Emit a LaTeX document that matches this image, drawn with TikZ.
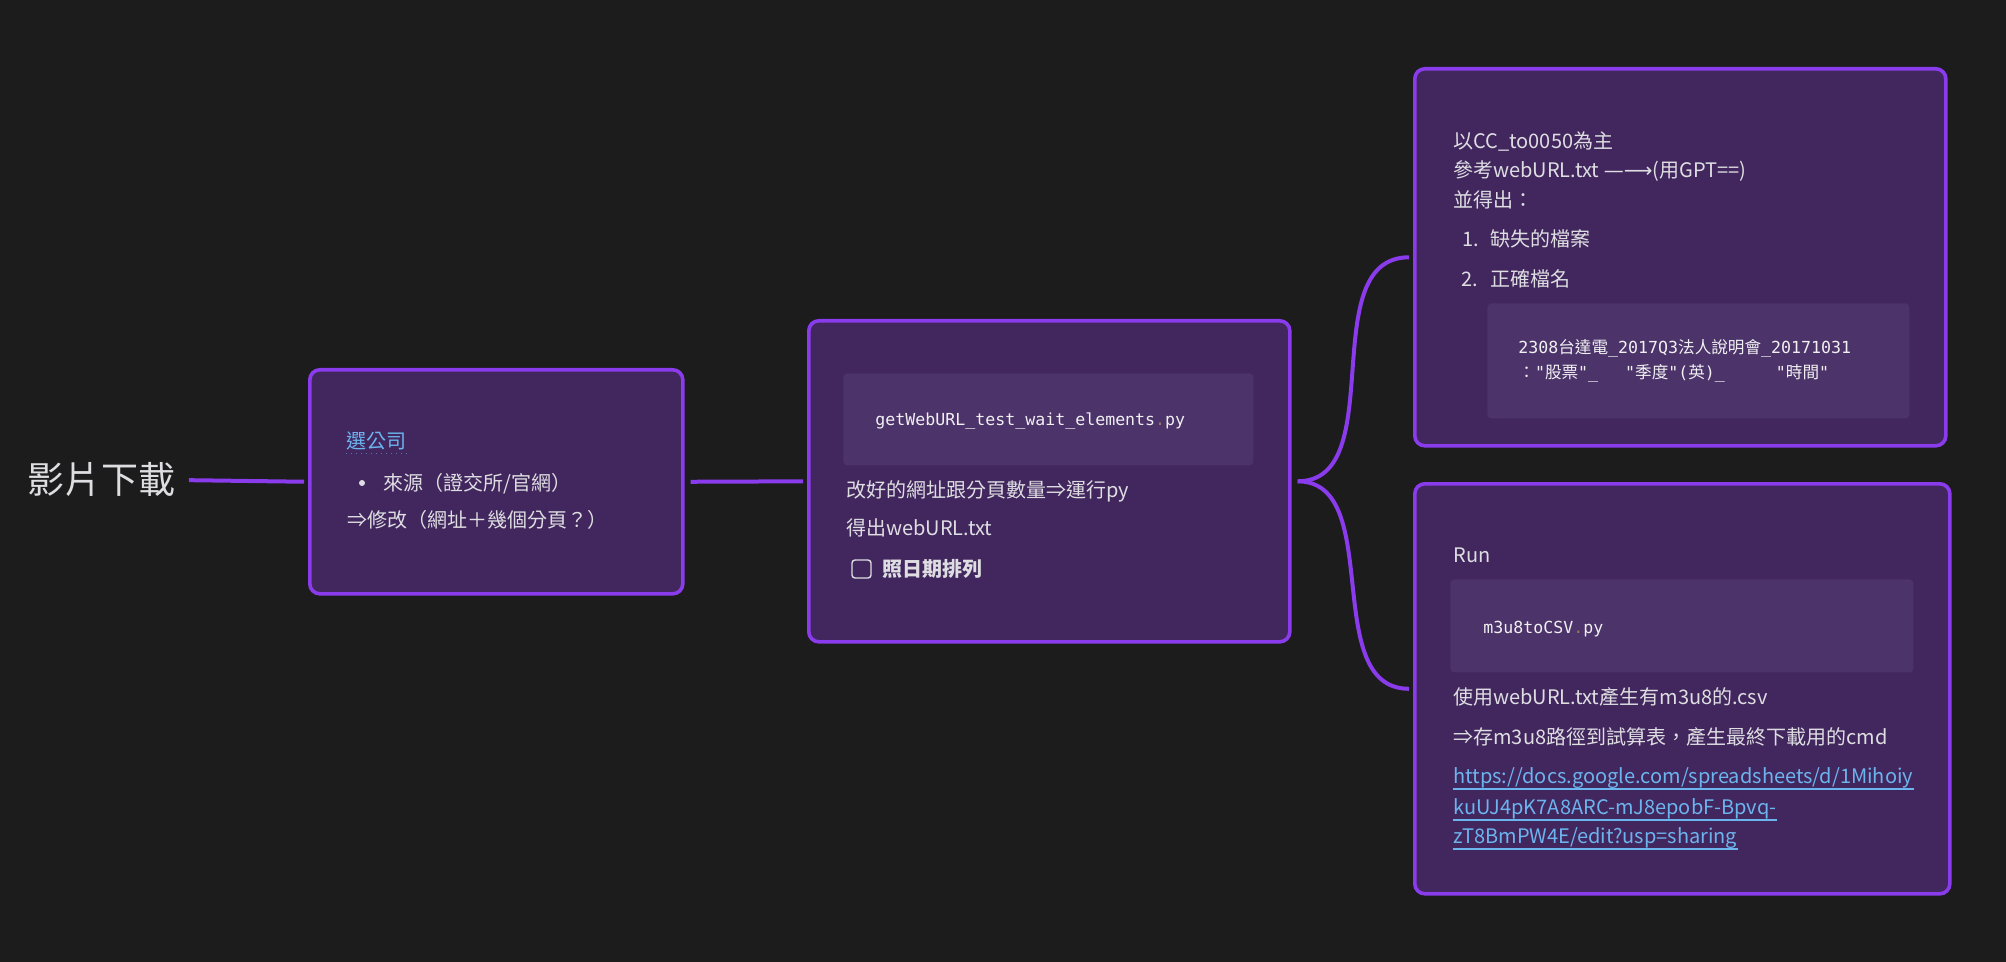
\documentclass[tikz,border=0pt]{standalone}
\usepackage{fontspec}
\setmainfont{Noto Sans CJK TC}
\setmonofont{DejaVu Sans Mono}
\newfontfamily\arrowfont{DejaVu Sans}
\definecolor{bgc}{RGB}{28,28,28}
\definecolor{cardfill}{RGB}{66,39,94}
\definecolor{cardline}{RGB}{138,59,235}
\definecolor{codefill}{RGB}{76,51,105}
\definecolor{fg}{RGB}{222,222,226}
\definecolor{codefg}{RGB}{240,240,242}
\definecolor{linkc}{RGB}{108,180,238}
\definecolor{dotc}{RGB}{150,120,90}

\begin{document}
\begin{tikzpicture}[x=0.5pt,y=-0.5pt,
    card/.style={draw=cardline,fill=cardfill,line width=1.8pt,rounded corners=5pt,inner sep=0pt,anchor=north west},
    codebox/.style={fill=codefill,rounded corners=2pt,inner sep=0pt,anchor=north west},
    txt/.style={anchor=west,inner sep=0pt,text=fg,font=\fontsize{10}{12}\selectfont,text height=7.5pt,text depth=0pt},
    codetxt/.style={anchor=west,inner sep=0pt,text=codefg,font=\ttfamily\fontsize{8.3}{10}\selectfont,text height=6pt,text depth=0pt},
    linktxt/.style={txt,text=linkc},
    branch/.style={draw=cardline,line width=2pt,shorten <=3pt,shorten >=2pt}]
    \useasboundingbox (0,0) rectangle (2006,962);
    \fill[bgc] (0,0) rectangle (2006,962);
    % cards
    \node[card,minimum width=186.5pt,minimum height=112pt] (sel) at (308,368) {};
    \node[card,minimum width=240.5pt,minimum height=160.5pt] (geturl) at (807,319) {};
    \node[card,minimum width=265.5pt,minimum height=188.5pt] (gpt) at (1413,67) {};
    \node[card,minimum width=267.5pt,minimum height=205pt] (csv) at (1413,482) {};
    % root
    \node[anchor=west,inner sep=0pt,text=fg,font=\fontsize{18.5}{20}\selectfont,text height=13.9pt,text depth=0pt] (title) at (27,480) {影片下載};
    \draw[branch,shorten <=6.5pt] (title.east) -- (sel.west);
    \draw[branch] (sel.east) -- (geturl.west);
    \draw[branch] (geturl.east) to[out=0,in=180] (gpt.west);
    \draw[branch] (geturl.east) to[out=0,in=180] (csv.west);
    % card 1
    \node[linktxt] (pick) at (346,441) {選公司};
    \draw[linkc!55!cardfill,dotted,line width=0.5pt] ([yshift=-2.3pt]pick.south west) -- ([yshift=-2.3pt]pick.south east);
    \node[circle,fill=fg,minimum size=3pt,inner sep=0pt] (bul) at (362,483) {};
    \node[txt] (src) at (383,483) {來源（證交所/官網）};
    \node[txt] (edit) at (347,520) {⇒修改（網址＋幾個分頁？）};
    % card 2
    \node[codebox,minimum width=205pt,minimum height=46pt] (code2) at (843,373) {};
    \node[codetxt] (file2) at (875,419) {getWebURL\_test\_wait\_elements{\color{dotc}.}py};
    \node[txt] (run2) at (846,490) {改好的網址跟分頁數量⇒運行py};
    \node[txt] (out2) at (846,528) {得出webURL.txt};
    \node[draw=fg,line width=0.7pt,rounded corners=1.5pt,minimum width=9.5pt,minimum height=9pt,inner sep=0pt] (chk) at (861.5,569) {};
    \node[txt,font=\fontsize{10}{12}\selectfont\bfseries] (sort) at (882,569) {照日期排列};
    % card 3
    \node[txt] (g1) at (1453,141) {以CC\_to0050為主};
    \node[txt] (g2) at (1453,170) {參考webURL.txt {\arrowfont —⟶}(用GPT==)};
    \node[txt] (g3) at (1453,200) {並得出：};
    \node[txt] (n1) at (1462,239) {1.};
    \node[txt] (g4) at (1490,239) {缺失的檔案};
    \node[txt] (n2) at (1461,279) {2.};
    \node[txt] (g5) at (1490,279) {正確檔名};
    \node[codebox,minimum width=211pt,minimum height=57.5pt] (code3) at (1487,303) {};
    \node[codetxt] (name1) at (1518,348) {2308{\rmfamily 台達電}\_2017Q3{\rmfamily 法人說明會}\_20171031};
    \node[codetxt] (name2) at (1518,373) {{\rmfamily ：}"{\rmfamily 股票}"\_\hspace{13.5pt}"{\rmfamily 季度}"({\rmfamily 英})\_\hspace{25.5pt}"{\rmfamily 時間}"};
    % card 4
    \node[txt] (c1) at (1453,555) {Run};
    \node[codebox,minimum width=231.5pt,minimum height=46.5pt] (code4) at (1450,579) {};
    \node[codetxt] (file4) at (1483,627) {m3u8toCSV{\color{dotc}.}py};
    \node[txt] (c2) at (1453,697) {使用webURL.txt產生有m3u8的.csv};
    \node[txt] (c3) at (1453,737) {⇒存m3u8路徑到試算表，產生最終下載用的cmd};
    \node[linktxt] (u1) at (1453,776) {https://docs.google.com/spreadsheets/d/1Mihoiy};
    \node[linktxt] (u2) at (1453,807) {kuUJ4pK7A8ARC-mJ8epobF-Bpvq-};
    \node[linktxt] (u3) at (1453,836) {zT8BmPW4E/edit?usp=sharing};
    \foreach \u in {u1,u2,u3}
        \draw[linkc,line width=0.6pt] ([yshift=-2.5pt]\u.south west) -- ([yshift=-2.5pt]\u.south east);
\end{tikzpicture}
\end{document}
